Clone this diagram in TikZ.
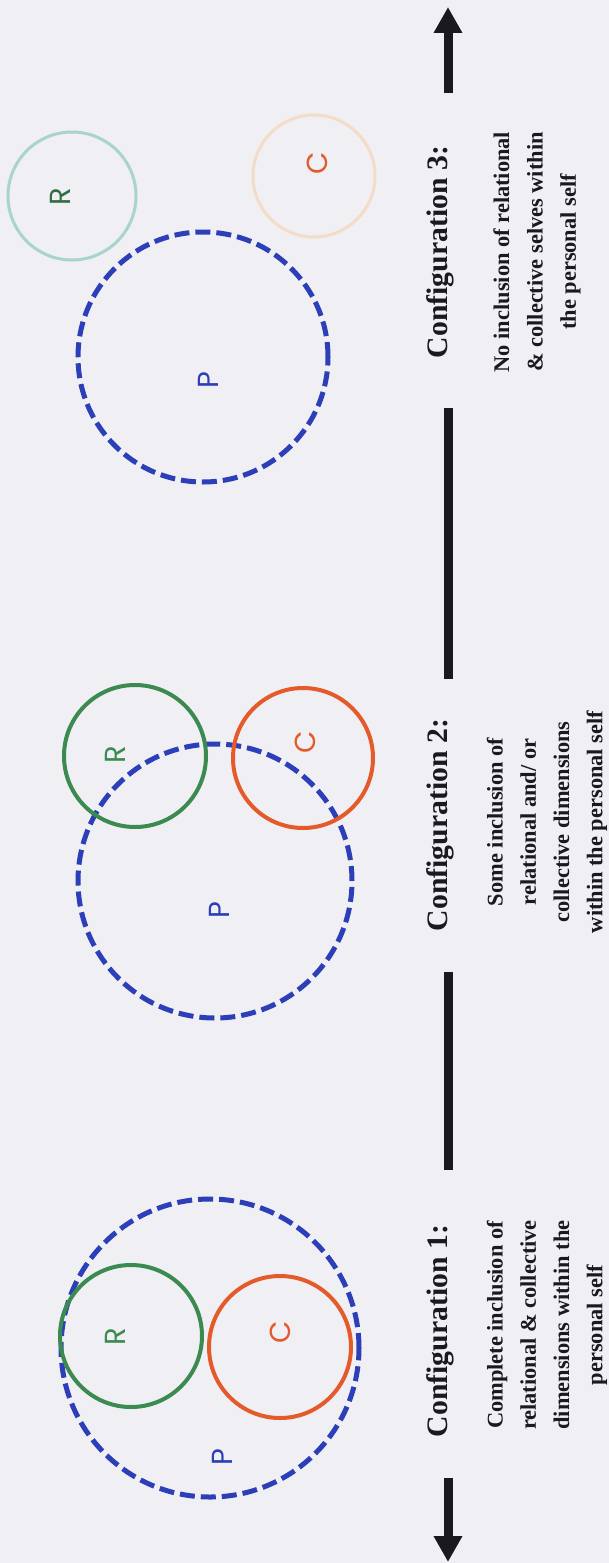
\documentclass[tikz,border=0pt]{standalone}
\usepackage{fontspec}
\setmainfont{Liberation Serif}
\newfontfamily\letterfont{Poppins}
\usetikzlibrary{arrows.meta}

\definecolor{bgcol}{RGB}{239,239,244}
\definecolor{pblue}{RGB}{44,62,184}
\definecolor{rgreen}{RGB}{59,138,79}
\definecolor{corange}{RGB}{228,90,42}
\definecolor{rteal}{RGB}{168,212,202}
\definecolor{cpeach}{RGB}{243,221,200}
\definecolor{inkcol}{RGB}{26,26,30}

\begin{document}
\begin{tikzpicture}[x=1pt, y=-1pt,
		selfcirc/.style={circle, draw, inner sep=0pt, minimum size=#1},
		pself/.style={selfcirc=#1, draw=pblue, line width=5pt, dash pattern=on 15pt off 6pt},
		rself/.style={selfcirc=#1, draw=rgreen, line width=4pt},
		cself/.style={selfcirc=#1, draw=corange, line width=4pt},
		letter/.style={font=\letterfont\fontsize{29}{29}\selectfont, rotate=90, inner sep=0pt},
		conftitle/.style={font=\bfseries\fontsize{29.7}{30}\selectfont, rotate=90, inner sep=0pt, text=inkcol},
		confdesc/.style={font=\bfseries\fontsize{22.4}{33.3}\selectfont, rotate=90, align=center, inner sep=0pt, text=inkcol},
		axis/.style={line width=9pt, draw=inkcol}]
	\fill[bgcol] (0,0) rectangle (609,1563);
	\useasboundingbox (0,0) rectangle (609,1563);

	% configuration 3
	\node[pself=250pt] (p3) at (203,357) {};
	\node[selfcirc=128pt, draw=rteal, line width=3pt] (r3) at (72,196) {};
	\node[selfcirc=122pt, draw=cpeach, line width=3pt] (c3) at (314,176) {};
	\node[letter, text=pblue] (p3lab) at (208,380) {P};
	\node[letter, text=rgreen!80!black] (r3lab) at (60,197) {R};
	\node[letter, text=corange] (c3lab) at (317,163) {C};
	\node[conftitle] (conf3) at (440,252) {Configuration 3:};
	\node[confdesc] (desc3) at (537,252) {No inclusion of relational\\ \& collective selves within\\ the personal self};

	% configuration 2
	\node[pself=274pt] (p2) at (215,881) {};
	\node[rself=142pt] (r2) at (135,756) {};
	\node[cself=140pt] (c2) at (303,758) {};
	\node[letter, text=pblue] (p2lab) at (219,910) {P};
	\node[letter, text=rgreen] (r2lab) at (115,755) {R};
	\node[letter, text=corange] (c2lab) at (305,742) {C};
	\node[conftitle] (conf2) at (440,825) {Configuration 2:};
	\node[confdesc] (desc2) at (547,822) {Some inclusion of\\ relational and/ or\\ collective dimensions\\ within the personal self};

	% configuration 1
	\node[pself=298pt] (p1) at (210,1348) {};
	\node[rself=142pt] (r1) at (131,1336) {};
	\node[cself=142pt] (c1) at (280,1347) {};
	\node[letter, text=pblue] (p1lab) at (222,1457) {P};
	\node[letter, text=rgreen] (r1lab) at (115,1337) {R};
	\node[letter, text=corange] (c1lab) at (280,1332) {C};
	\node[conftitle] (conf1) at (440,1331) {Configuration 1:};
	\node[confdesc] (desc1) at (547,1325) {Complete inclusion of\\ relational \& collective\\ dimensions within the\\ personal self};

	% axis
	\coordinate (uptip) at (448,7);
	\coordinate (downtip) at (448,1562);
	\draw[axis, -{Triangle[length=26pt, width=27pt]}, shorten <=53pt] (uptip |- conf3.east) -- (uptip);
	\draw[axis, shorten <=50pt, shorten >=40pt] (uptip |- conf3.west) -- (uptip |- conf2.east);
	\draw[axis, shorten <=41pt, shorten >=55pt] (uptip |- conf2.west) -- (uptip |- conf1.east);
	\draw[axis, -{Triangle[length=26pt, width=27pt]}, shorten <=41pt] (uptip |- conf1.west) -- (downtip);
\end{tikzpicture}
\end{document}
